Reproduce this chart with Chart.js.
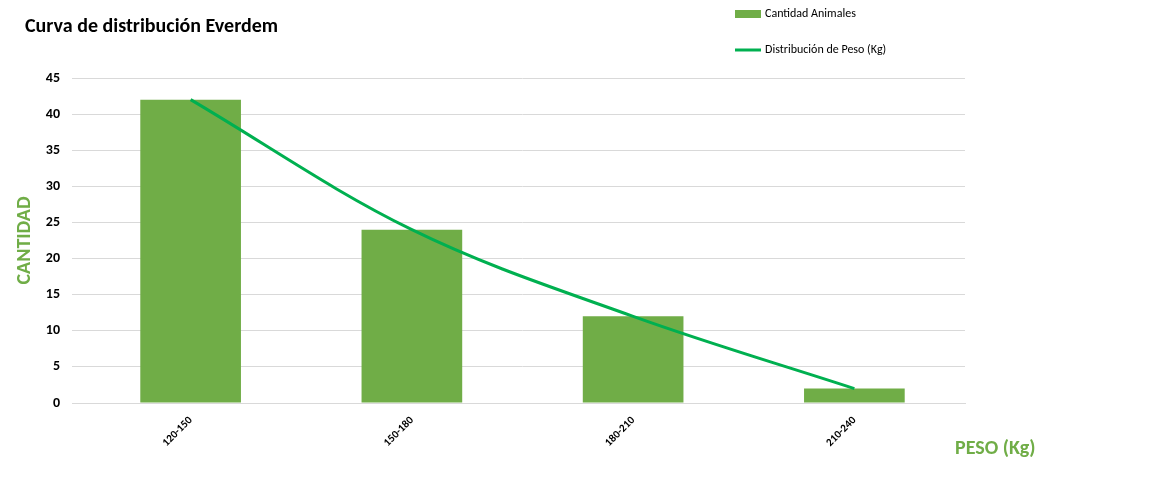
<!DOCTYPE html>
<html><head><meta charset="utf-8">
<script src="https://cdn.jsdelivr.net/npm/chart.js@4"></script>
<style>html,body{margin:0;padding:0;background:#fff}#wrap{width:1160px;height:493px}</style>
</head><body><div id="wrap"><canvas id="c"></canvas></div>
<script>
const categories = ["120-150","150-180","180-210","210-240"];
const barValues = [42,24,12,2];
const lineValues = [42,24,12,2];
const yTicks = [0,5,10,15,20,25,30,35,40,45];
const barColor = "#70ad47", lineColor = "#00b050";
const FONT = "Calibri, Carlito, 'Liberation Sans', Arial, sans-serif";

const extras = {
  id:'extras',
  afterDraw(chart){
    const ctx = chart.ctx, a = chart.chartArea;
    ctx.save();
    ctx.fillStyle='#000'; ctx.font='bold 20px '+FONT; ctx.textBaseline='middle'; ctx.textAlign='left';
    ctx.fillText('Curva de distribución Everdem',25,27);
    // legend
    ctx.font='12px '+FONT;
    ctx.fillStyle=barColor; ctx.fillRect(735,10,26,8);
    ctx.fillStyle='#000'; ctx.fillText('Cantidad Animales',765,14);
    ctx.strokeStyle=lineColor; ctx.lineWidth=3; ctx.beginPath(); ctx.moveTo(735,50); ctx.lineTo(761,50); ctx.stroke();
    ctx.fillText('Distribución de Peso (Kg)',765,50);
    // axis titles
    ctx.fillStyle=barColor; ctx.font='bold 20px '+FONT;
    ctx.fillText('PESO (Kg)',955,449);
    ctx.translate(25,(a.top+a.bottom)/2); ctx.rotate(-Math.PI/2); ctx.textAlign='center';
    ctx.fillText('CANTIDAD',0,0);
    ctx.restore();
  }
};

new Chart(document.getElementById('c'),{
  data:{labels:categories,datasets:[
    {type:'line',label:'Distribución de Peso (Kg)',data:lineValues,borderColor:lineColor,borderWidth:3,pointRadius:0,tension:0.35,fill:false,order:0},
    {type:'bar',label:'Cantidad Animales',data:barValues,backgroundColor:barColor,categoryPercentage:1,barPercentage:0.455,order:1}
  ]},
  options:{responsive:true,maintainAspectRatio:false,animation:false,
    layout:{padding:{top:78,right:195,left:0,bottom:0}},
    plugins:{legend:{display:false},tooltip:{enabled:false}},
    scales:{
      x:{grid:{display:false},border:{color:'#d9d9d9'},
        ticks:{color:'#000',font:{family:FONT,size:11,weight:'bold'},maxRotation:45,minRotation:45},
        afterFit(s){s.height=90;}},
      y:{min:0,max:45,afterBuildTicks(s){s.ticks=yTicks.map(v=>({value:v}));},
        grid:{color:'#d9d9d9'},border:{display:false},
        ticks:{color:'#000',font:{family:FONT,size:14,weight:'bold'},padding:12},
        afterFit(s){s.width=80;}}
    }
  },
  plugins:[extras]
});
</script></body></html>
